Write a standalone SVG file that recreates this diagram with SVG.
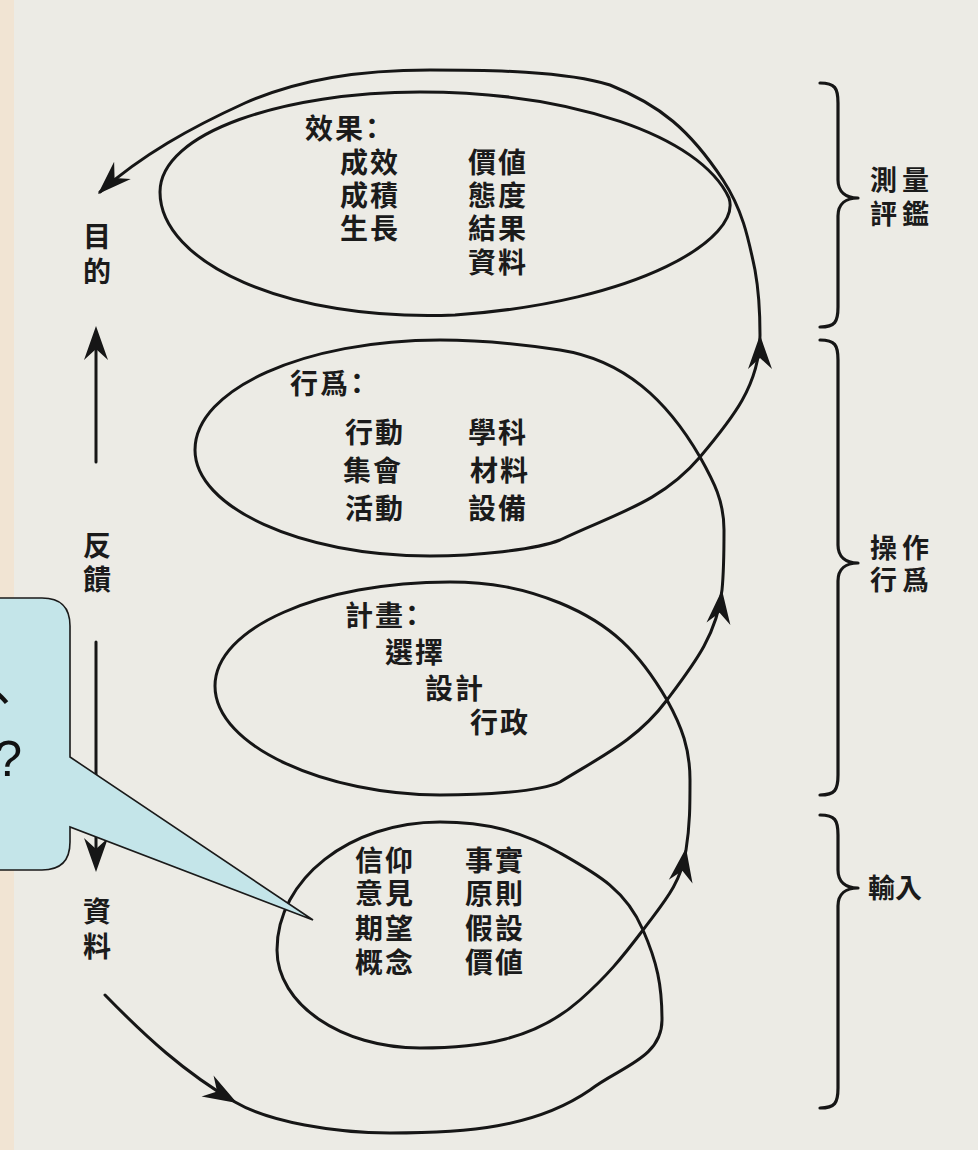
<svg xmlns="http://www.w3.org/2000/svg" width="978" height="1150" viewBox="0 0 978 1150">
<defs>
<style>
.t{font-family:"Noto Sans CJK TC","Noto Sans CJK SC",sans-serif;font-weight:700;font-size:28px;fill:#1b1b1b;letter-spacing:2px}
.s{font-family:"Noto Sans CJK TC","Noto Sans CJK SC",sans-serif;font-weight:700;font-size:28px;fill:#1b1b1b}
.r{font-family:"Noto Sans CJK TC","Noto Sans CJK SC",sans-serif;font-weight:700;font-size:27px;fill:#1b1b1b;letter-spacing:5px}
.ln{fill:none;stroke:#161616;stroke-width:3;stroke-linecap:round}
.br{fill:none;stroke:#161616;stroke-width:3.2;stroke-linecap:round;stroke-linejoin:round}
.ah{fill:#161616}
</style>
<path id="ah" d="M0,0 L-34,-12 L-23,0 L-34,12 Z"/>
</defs>
<rect width="978" height="1150" fill="#ecebe5"/>
<rect width="14" height="1150" fill="#f1e4d3"/>

<g id="connectors">
<path class="ln" d="M105,995 C146,1037 184,1072 235,1102 C269,1122 335,1133 390,1133 C465,1133 535,1128 590,1090 C620,1067 662,1058 662,1020 C662,985 657,962 643,930 C626,890 597,874 560,853 C522,831 485,822 440,822 C350,822 277,879 277,950 C277,1004 341,1048 420,1048 C480,1048 535,1040 580,1000 C607,976 621,959 643,930 C663,903 681,884 686,850 C690,825 690,805 690,780 C690,749 682,727 667,700 C639,652 611,624 560,603 C523,588 490,582 450,582 C320,582 215,628 215,686 C215,747 328,795 440,795 C480,795 540,792 560,782 C602,756 637,740 667,700 C694,664 717,635 722,590 C724,570 724,550 724,530 C724,501 714,482 700,457 C667,400 624,360 560,350 C521,344 480,340 440,340 C305,340 195,389 195,450 C195,507 300,556 430,556 C475,556 535,550 560,540 C614,514 661,503 700,457 C732,419 760,385 760,335 C760,312 759,292 755,270 C748,236 742,209 723,180 C690,130 660,105 610,85 C565,71 490,70 430,70 C360,70 300,79 245,103 C190,128 142,155 100,192"/>
<path class="ln" d="M160,192 C160,132 285,92 420,92 C570,92 700,135 729,198 C742,238 640,302 455,315 C285,322 160,262 160,192 Z"/>
<line class="ln" x1="96" y1="462" x2="96" y2="345"/>
<line class="ln" x1="96" y1="642" x2="96" y2="852"/>
<use href="#ah" class="ah" transform="translate(237,1103) rotate(30)"/>
<use href="#ah" class="ah" transform="translate(686,848) rotate(-81)"/>
<use href="#ah" class="ah" transform="translate(722,590) rotate(-84)"/>
<use href="#ah" class="ah" transform="translate(760,335) rotate(-90)"/>
<use href="#ah" class="ah" transform="translate(98,194) rotate(136)"/>
<use href="#ah" class="ah" transform="translate(96,326) rotate(-90)"/>
<use href="#ah" class="ah" transform="translate(96,872) rotate(90)"/>
<path class="br" d="M820,83 C835,83 838,88 838,103 L838,180 C838,192 846,198 858,198 C846,198 838,204 838,216 L838,307 C838,322 835,327 820,327"/>
<path class="br" d="M820,340 C835,340 838,345 838,360 L838,545 C838,557 846,563 858,563 C846,563 838,569 838,581 L838,775 C838,790 835,795 820,795"/>
<path class="br" d="M820,815 C835,815 838,820 838,835 L838,870 C838,882 846,888 858,888 C846,888 838,894 838,906 L838,1088 C838,1103 835,1108 820,1108"/>
</g>

<g id="node-effect">
<text class="t" x="305" y="139">效果<tspan dx="-7">：</tspan></text>
<text class="t" x="340" y="173">成效</text><text class="t" x="468" y="173">價値</text>
<text class="t" x="340" y="206">成積</text><text class="t" x="468" y="206">態度</text>
<text class="t" x="340" y="239">生長</text><text class="t" x="468" y="239">結果</text>
<text class="t" x="468" y="273">資料</text>
</g>
<g id="node-behavior">
<text class="t" x="290" y="394">行爲<tspan dx="-7">：</tspan></text>
<text class="t" x="345" y="443">行動</text><text class="t" x="468" y="443">學科</text>
<text class="t" x="343" y="481">集會</text><text class="t" x="470" y="481">材料</text>
<text class="t" x="345" y="519">活動</text><text class="t" x="468" y="519">設備</text>
</g>
<g id="node-plan">
<text class="t" x="345" y="626">計畫<tspan dx="-7">：</tspan></text>
<text class="t" x="385" y="663">選擇</text>
<text class="t" x="425" y="699">設計</text>
<text class="t" x="470" y="733">行政</text>
</g>
<g id="node-input">
<text class="t" x="355" y="871">信仰</text><text class="t" x="465" y="871">事實</text>
<text class="t" x="355" y="904">意見</text><text class="t" x="465" y="904">原則</text>
<text class="t" x="355" y="939">期望</text><text class="t" x="465" y="939">假設</text>
<text class="t" x="355" y="973">概念</text><text class="t" x="465" y="973">價値</text>
</g>
<g id="node-left">
<text class="s" x="97" y="247" text-anchor="middle">目</text>
<text class="s" x="97" y="282" text-anchor="middle">的</text>
<text class="s" x="97" y="556" text-anchor="middle">反</text>
<text class="s" x="97" y="590" text-anchor="middle">饋</text>
<text class="s" x="97" y="922" text-anchor="middle">資</text>
<text class="s" x="97" y="957" text-anchor="middle">料</text>
</g>
<g id="node-right">
<text class="r" x="870" y="190">測量</text>
<text class="r" x="870" y="224">評鑑</text>
<text class="r" x="870" y="558">操作</text>
<text class="r" x="870" y="590">行爲</text>
<text class="s" x="868" y="898" style="font-size:27px">輸入</text>
</g>
<g id="callout">
<path d="M-40,598 L42,598 Q70,598 70,626 L70,757 L313,920 L70,827 L70,842 Q70,870 42,870 L-40,870 Z" fill="#c4e5e9" stroke="#1a1a1a" stroke-width="1.6"/>
<text x="-24" y="716" font-family="Noto Sans CJK TC, sans-serif" font-size="50" fill="#111">、</text>
<text x="22" y="776" text-anchor="end" font-family="Liberation Sans, sans-serif" font-size="50" fill="#111">?</text>
</g>
</svg>
